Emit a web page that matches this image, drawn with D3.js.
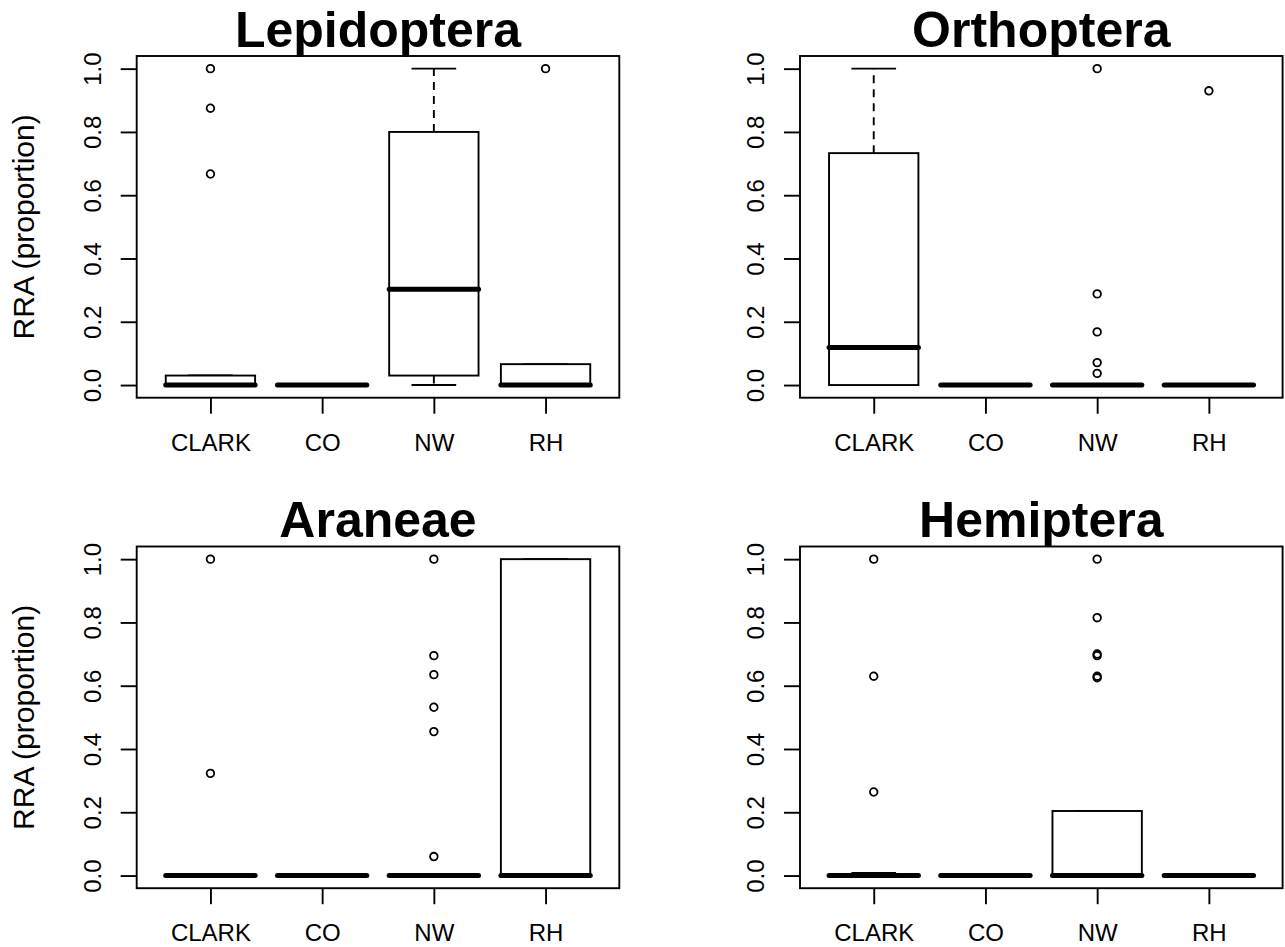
<!DOCTYPE html>
<html>
<head>
<meta charset="utf-8">
<script src="https://cdn.jsdelivr.net/npm/d3@7"></script>
<style>
body { margin: 0; background: #fff; }
text { font-family: "Liberation Sans", Arial, sans-serif; fill: #000; }
</style>
</head>
<body>
<svg id="chart" width="1285" height="947"></svg>
<script>
var sites = ["CLARK", "CO", "NW", "RH"];
var taxa = ["Lepidoptera", "Orthoptera", "Araneae", "Hemiptera"];
var yTicks = [0, 0.2, 0.4, 0.6, 0.8, 1.0];

// [lower whisker, q1, median, q3, upper whisker] for each site
var lepidopteraStats = [[0, 0, 0, 0.03, 0.03], [0, 0, 0, 0, 0], [0, 0.03, 0.303, 0.80, 1.0], [0, 0, 0, 0.066, 0.066]];
var orthopteraStats  = [[0, 0, 0.119, 0.733, 1.0], [0, 0, 0, 0, 0], [0, 0, 0, 0, 0], [0, 0, 0, 0, 0]];
var araneaeStats     = [[0, 0, 0, 0, 0], [0, 0, 0, 0, 0], [0, 0, 0, 0, 0], [0, 0, 0, 1.0, 1.0]];
var hemipteraStats   = [[0, 0, 0, 0, 0.008], [0, 0, 0, 0, 0], [0, 0, 0, 0.204, 0.204], [0, 0, 0, 0, 0]];

// outlier points for each site
var lepidopteraOut = [[1.0, 0.875, 0.667], [], [], [1.0]];
var orthopteraOut  = [[], [], [1.0, 0.288, 0.168, 0.071, 0.037], [0.93]];
var araneaeOut     = [[1.0, 0.323], [], [1.0, 0.695, 0.635, 0.532, 0.455, 0.06], []];
var hemipteraOut   = [[1.0, 0.63, 0.264], [], [1.0, 0.815, 0.70, 0.695, 0.63, 0.625], []];

var allStats = [lepidopteraStats, orthopteraStats, araneaeStats, hemipteraStats];
var allOut = [lepidopteraOut, orthopteraOut, araneaeOut, hemipteraOut];

var svg = d3.select("#chart");
svg.append("rect").attr("width", 1285).attr("height", 947).attr("fill", "#fff");

var colX = [136.7, 800];
var rowY = [56, 546.5];
var boxW = 482.6, boxH = 341.7;
var lw = 1.9;

taxa.forEach(function(name, i) {
    var left = colX[i % 2], top = rowY[Math.floor(i / 2)];
    var g = svg.append("g").attr("transform", "translate(" + left + "," + top + ")");

    // R style: range padded by 4% each side
    var x = d3.scaleLinear().domain([0.34, 4.66]).range([0, boxW]);
    var y = d3.scaleLinear().domain([-0.04, 1.04]).range([boxH, 0]);
    var hw = x(1.4) - x(1);

    var groups = g.selectAll(".grp")
        .data(allStats[i])
        .enter().append("g")
        .attr("class", "grp")
        .attr("transform", function(d, j) { return "translate(" + x(j + 1) + ",0)"; });

    // whiskers
    groups.append("line")
        .attr("y1", function(d) { return y(d[3]); })
        .attr("y2", function(d) { return y(d[4]); })
        .attr("stroke", "#000").attr("stroke-width", lw).attr("stroke-dasharray", "8,6");
    groups.append("line")
        .attr("y1", function(d) { return y(d[1]); })
        .attr("y2", function(d) { return y(d[0]); })
        .attr("stroke", "#000").attr("stroke-width", lw).attr("stroke-dasharray", "8,6");

    // staples
    groups.append("line")
        .attr("x1", -hw / 2).attr("x2", hw / 2)
        .attr("y1", function(d) { return y(d[4]); })
        .attr("y2", function(d) { return y(d[4]); })
        .attr("stroke", "#000").attr("stroke-width", lw);
    groups.append("line")
        .attr("x1", -hw / 2).attr("x2", hw / 2)
        .attr("y1", function(d) { return y(d[0]); })
        .attr("y2", function(d) { return y(d[0]); })
        .attr("stroke", "#000").attr("stroke-width", lw);

    // boxes
    groups.append("rect")
        .attr("x", -hw)
        .attr("width", 2 * hw)
        .attr("y", function(d) { return y(d[3]); })
        .attr("height", function(d) { return y(d[1]) - y(d[3]); })
        .attr("fill", "#fff")
        .attr("stroke", "#000").attr("stroke-width", lw);

    // medians
    groups.append("line")
        .attr("x1", -hw).attr("x2", hw)
        .attr("y1", function(d) { return y(d[2]); })
        .attr("y2", function(d) { return y(d[2]); })
        .attr("stroke", "#000").attr("stroke-width", 5).attr("stroke-linecap", "round");

    // outliers
    groups.selectAll(".out")
        .data(function(d, j) { return allOut[i][j]; })
        .enter().append("circle")
        .attr("class", "out")
        .attr("cy", function(v) { return y(v); })
        .attr("r", 3.8)
        .attr("fill", "none")
        .attr("stroke", "#000").attr("stroke-width", 1.8);

    // axes
    var yAxis = g.append("g")
        .call(d3.axisLeft(y).tickValues(yTicks).tickSize(16).tickSizeOuter(0).tickFormat(d3.format(".1f")));
    yAxis.select(".domain").remove();
    yAxis.selectAll(".tick line").attr("stroke", "#000").attr("stroke-width", lw);
    yAxis.selectAll(".tick text")
        .attr("x", null).attr("dy", null)
        .attr("text-anchor", "middle")
        .attr("transform", "translate(-36,0) rotate(-90)")
        .style("font-size", "24px")
        .style("font-family", "Liberation Sans, Arial, sans-serif");

    var xAxis = g.append("g")
        .attr("transform", "translate(0," + boxH + ")")
        .call(d3.axisBottom(x).tickValues([1, 2, 3, 4]).tickSize(16).tickSizeOuter(0)
            .tickFormat(function(d) { return sites[d - 1]; }));
    xAxis.select(".domain").remove();
    xAxis.selectAll(".tick line").attr("stroke", "#000").attr("stroke-width", lw);
    xAxis.selectAll(".tick text")
        .attr("y", 53).attr("dy", null)
        .style("font-size", "24px")
        .style("font-family", "Liberation Sans, Arial, sans-serif");

    // frame
    g.append("rect")
        .attr("width", boxW).attr("height", boxH)
        .attr("fill", "none").attr("stroke", "#000").attr("stroke-width", lw);

    // title
    g.append("text")
        .attr("x", boxW / 2).attr("y", -9.3)
        .attr("text-anchor", "middle")
        .style("font-size", "50px").style("font-weight", "bold")
        .text(name);

    if (i % 2 == 0) {
        g.append("text")
            .attr("transform", "translate(-103," + (boxH / 2) + ") rotate(-90)")
            .attr("text-anchor", "middle")
            .style("font-size", "30px")
            .text("RRA (proportion)");
    }
});
</script>
</body>
</html>
